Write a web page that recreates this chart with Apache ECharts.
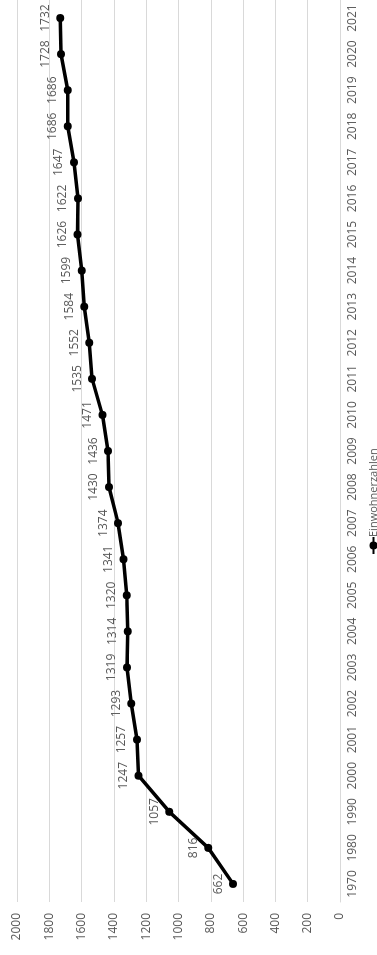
<!DOCTYPE html>
<html>
<head>
<meta charset="utf-8">
<script src="https://cdn.jsdelivr.net/npm/echarts@6/dist/echarts.min.js"></script>
<style>
  html, body { margin: 0; padding: 0; background: #fff; overflow: hidden; width: 377px; height: 955px; }
  /* The chart is laid out landscape and turned a quarter turn counter-clockwise onto the portrait page */
  #chart {
    position: absolute; left: 0; top: 0;
    width: 955px; height: 377px;
    transform-origin: 0 0;
    transform: translateY(955px) rotate(-90deg);
  }
</style>
</head>
<body>
<div id="chart"></div>
<script>
// Einwohnerzahlen je Jahr
const years = ['1970', '1980', '1990', '2000', '2001', '2002', '2003', '2004', '2005', '2006',
  '2007', '2008', '2009', '2010', '2011', '2012', '2013', '2014', '2015', '2016',
  '2017', '2018', '2019', '2020', '2021'];
const einwohner = [662, 816, 1057, 1247, 1257, 1293, 1319, 1314, 1320, 1341,
  1374, 1430, 1436, 1471, 1535, 1552, 1584, 1599, 1626, 1622,
  1647, 1686, 1686, 1728, 1732];
const valueTicks = { min: 0, max: 2000, interval: 200 };

const textColor = '#595959';
const gridColor = '#d9d9d9';
const fontFamily = '"Open Sans", "Noto Sans", sans-serif';

const chart = echarts.init(document.getElementById('chart'));
chart.setOption({
  animation: false,
  backgroundColor: '#fff',
  textStyle: { fontFamily: fontFamily },
  grid: { left: 53, right: 0, top: 17, bottom: 37, containLabel: false },
  legend: {
    data: ['Einwohnerzahlen'],
    left: 400, top: 368, padding: 0,
    itemWidth: 17, itemHeight: 10, itemGap: 10,
    textStyle: { color: textColor, fontSize: 11, fontFamily: fontFamily, padding: [0, 0, 0, -5] }
  },
  xAxis: {
    type: 'category',
    data: years,
    boundaryGap: true,
    axisLine: { show: true, lineStyle: { color: gridColor, width: 1 } },
    axisTick: { show: false },
    axisLabel: { color: textColor, fontSize: 12, margin: 7, interval: 0, fontFamily: fontFamily },
    splitLine: { show: false }
  },
  yAxis: {
    type: 'value',
    min: valueTicks.min, max: valueTicks.max, interval: valueTicks.interval,
    axisLine: { show: false },
    axisTick: { show: false },
    axisLabel: {
      color: textColor, fontSize: 12, margin: 11, fontFamily: fontFamily,
      formatter: (v) => String(v)
    },
    splitLine: { show: true, lineStyle: { color: gridColor, width: 1 } }
  },
  series: [{
    name: 'Einwohnerzahlen',
    type: 'line',
    data: einwohner,
    symbol: 'circle',
    symbolSize: 8,
    lineStyle: { color: '#000', width: 3.5 },
    itemStyle: { color: '#000' },
    label: {
      show: true, position: 'top', distance: 5,
      color: textColor, fontSize: 12, fontFamily: fontFamily
    }
  }]
});
</script>
</body>
</html>
